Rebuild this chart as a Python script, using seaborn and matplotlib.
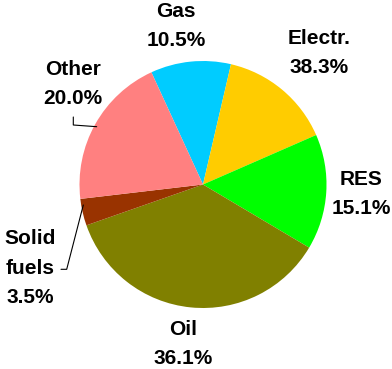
import seaborn as sns
import matplotlib.pyplot as plt

# slice order runs clockwise starting from Gas
categories = ["Gas", "Electr.", "RES", "Oil", "Solid\nfuels", "Other"]
shares = [10.5, 14.8, 15.1, 36.1, 3.5, 20.0]
# percentages as printed on the chart
shown_pct = ["10.5%", "38.3%", "15.1%", "36.1%", "3.5%", "20.0%"]
colors = ["#00CCFF", "#FFCC00", "#00FF00", "#808000", "#993300", "#FF8080"]

sns.set_style("white")
plt.rcParams["font.family"] = ["Liberation Sans", "DejaVu Sans"]

W, H = 392, 369
fig = plt.figure(figsize=(W / 100, H / 100), dpi=100)
ax = fig.add_axes([0, 0, 1, 1])

cx, cy, r = 203, H - 184.5, 123.5
ax.pie(shares, colors=colors, startangle=114.7, counterclock=False,
       center=(cx, cy), radius=r, frame=True,
       wedgeprops=dict(linewidth=0))
ax.set_xlim(0, W)
ax.set_ylim(0, H)
ax.set_aspect("equal")
ax.axis("off")

# label text centres in pixel coords
label_pos = [(176, 26), (319, 53), (361, 194), (183, 344), (30, 268), (73, 84)]
for name, pct, (x, y) in zip(categories, shown_pct, label_pos):
    ax.text(x, H - y, f"{name}\n{pct}", ha="center", va="center",
            fontsize=15, fontweight="bold", linespacing=1.7, color="black")

# leader lines
ax.plot([73.3, 73.3, 96.7], [H - 117, H - 125, H - 126.7], color="black", lw=0.8)
ax.plot([61, 66.7, 83.3], [H - 269.3, H - 269.3, H - 205], color="black", lw=0.8)

fig.savefig("out.png", dpi=100)
